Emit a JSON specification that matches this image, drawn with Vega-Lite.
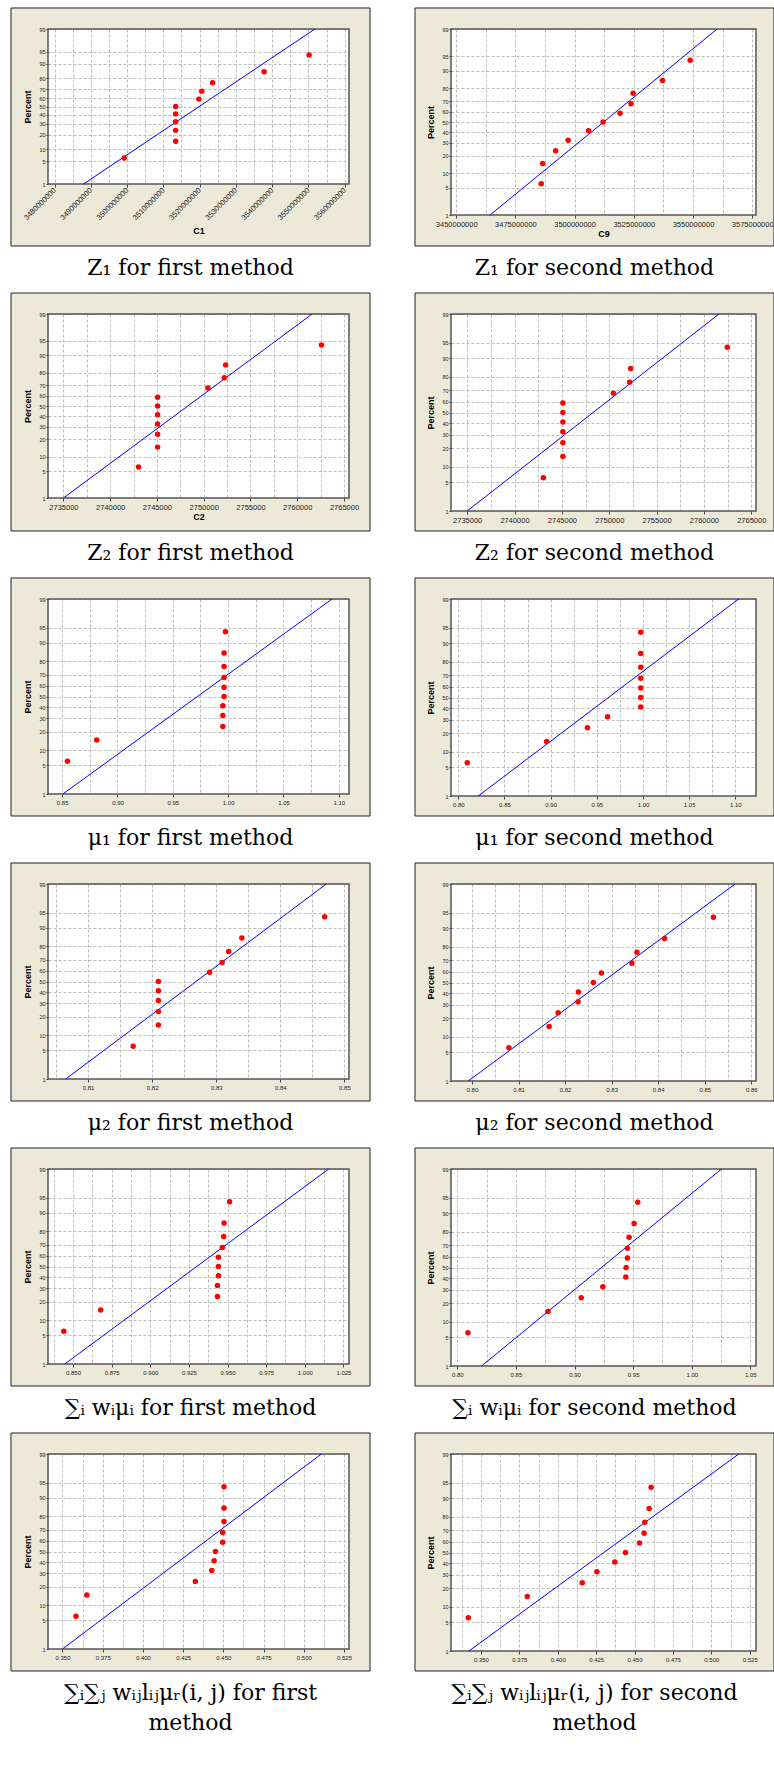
{
"$schema": "https://vega.github.io/schema/vega-lite/v6.json",
"padding": {"left": 10, "top": 7, "right": 2, "bottom": 5},
"columns": 2,
"spacing": {"row": 12, "column": 43},
"config": {
 "view": {"stroke": null},
 "title": {"font": "DejaVu Serif, Liberation Serif", "fontSize": 22, "fontWeight": "normal", "color": "#000", "lineHeight": 30},
 "axis": {"domain": false, "labelFont": "Liberation Sans", "labelFontSize": 6, "labelColor": "#222", "labelFlush": false, "labelOverlap": false, "labelPadding": 2, "tickSize": 3, "tickColor": "#444", "titleFont": "Liberation Sans", "titleFontSize": 9, "titleFontWeight": "bold", "titleColor": "#000", "titlePadding": 2, "gridColor": "#BDBDBD", "gridDash": [3, 2], "gridWidth": 1, "gridOpacity": 1},
 "axisY": {"labelFontSize": 5.5, "tickSize": 2, "labelPadding": 1, "titlePadding": 6}
},
"datasets": {
 "p1": [{"x":3499200000,"pct":6.1,"z":-1.5435},{"x":3513400000,"pct":14.9,"z":-1.0398},{"x":3513400000,"pct":23.7,"z":-0.7165},{"x":3513400000,"pct":32.5,"z":-0.455},{"x":3513400000,"pct":41.2,"z":-0.2217},{"x":3513400000,"pct":50,"z":0},{"x":3519800000,"pct":58.8,"z":0.2217},{"x":3520600000,"pct":67.5,"z":0.455},{"x":3523600000,"pct":76.3,"z":0.7165},{"x":3537800000,"pct":85.1,"z":1.0398},{"x":3550200000,"pct":93.9,"z":1.5435}],
 "f1": [{"x":3488000000,"pct":1,"z":-2.3263},{"x":3551800000,"pct":99,"z":2.3263}],
 "p2": [{"x":3485900000,"pct":6.1,"z":-1.5435},{"x":3486500000,"pct":14.9,"z":-1.0398},{"x":3492000000,"pct":23.7,"z":-0.7165},{"x":3497300000,"pct":32.5,"z":-0.455},{"x":3505900000,"pct":41.2,"z":-0.2217},{"x":3512000000,"pct":50,"z":0},{"x":3519200000,"pct":58.8,"z":0.2217},{"x":3523800000,"pct":67.5,"z":0.455},{"x":3524700000,"pct":76.3,"z":0.7165},{"x":3537100000,"pct":85.1,"z":1.0398},{"x":3548800000,"pct":93.9,"z":1.5435}],
 "f2": [{"x":3464300000,"pct":1,"z":-2.3263},{"x":3560200000,"pct":99,"z":2.3263}],
 "p3": [{"x":2743029,"pct":6.1,"z":-1.5435},{"x":2745072,"pct":14.9,"z":-1.0398},{"x":2745072,"pct":23.7,"z":-0.7165},{"x":2745072,"pct":32.5,"z":-0.455},{"x":2745072,"pct":41.2,"z":-0.2217},{"x":2745072,"pct":50,"z":0},{"x":2745072,"pct":58.8,"z":0.2217},{"x":2750448,"pct":67.5,"z":0.455},{"x":2752204,"pct":76.3,"z":0.7165},{"x":2752348,"pct":85.1,"z":1.0398},{"x":2762599,"pct":93.9,"z":1.5435}],
 "f3": [{"x":2735000,"pct":1,"z":-2.3263},{"x":2761595,"pct":99,"z":2.3263}],
 "p4": [{"x":2743043,"pct":6.1,"z":-1.5435},{"x":2745107,"pct":14.9,"z":-1.0398},{"x":2745107,"pct":23.7,"z":-0.7165},{"x":2745107,"pct":32.5,"z":-0.455},{"x":2745107,"pct":41.2,"z":-0.2217},{"x":2745107,"pct":50,"z":0},{"x":2745107,"pct":58.8,"z":0.2217},{"x":2750445,"pct":67.5,"z":0.455},{"x":2752153,"pct":76.3,"z":0.7165},{"x":2752260,"pct":85.1,"z":1.0398},{"x":2762473,"pct":93.9,"z":1.5435}],
 "f4": [{"x":2735000,"pct":1,"z":-2.3263},{"x":2761584,"pct":99,"z":2.3263}],
 "p5": [{"x":0.8548,"pct":6.1,"z":-1.5435},{"x":0.8812,"pct":14.9,"z":-1.0398},{"x":0.9952,"pct":23.7,"z":-0.7165},{"x":0.9952,"pct":32.5,"z":-0.455},{"x":0.9952,"pct":41.2,"z":-0.2217},{"x":0.9963,"pct":50,"z":0},{"x":0.9963,"pct":58.8,"z":0.2217},{"x":0.9963,"pct":67.5,"z":0.455},{"x":0.9963,"pct":76.3,"z":0.7165},{"x":0.9963,"pct":85.1,"z":1.0398},{"x":0.9975,"pct":93.9,"z":1.5435}],
 "f5": [{"x":0.8506,"pct":1,"z":-2.3263},{"x":1.0939,"pct":99,"z":2.3263}],
 "p6": [{"x":0.8097,"pct":6.1,"z":-1.5435},{"x":0.8956,"pct":14.9,"z":-1.0398},{"x":0.9399,"pct":23.7,"z":-0.7165},{"x":0.9616,"pct":32.5,"z":-0.455},{"x":0.9976,"pct":41.2,"z":-0.2217},{"x":0.9976,"pct":50,"z":0},{"x":0.9976,"pct":58.8,"z":0.2217},{"x":0.9976,"pct":67.5,"z":0.455},{"x":0.9976,"pct":76.3,"z":0.7165},{"x":0.9976,"pct":85.1,"z":1.0398},{"x":0.9976,"pct":93.9,"z":1.5435}],
 "f6": [{"x":0.8216,"pct":1,"z":-2.3263},{"x":1.1036,"pct":99,"z":2.3263}],
 "p7": [{"x":0.81703,"pct":6.1,"z":-1.5435},{"x":0.82097,"pct":14.9,"z":-1.0398},{"x":0.82097,"pct":23.7,"z":-0.7165},{"x":0.82097,"pct":32.5,"z":-0.455},{"x":0.82097,"pct":41.2,"z":-0.2217},{"x":0.82097,"pct":50,"z":0},{"x":0.82897,"pct":58.8,"z":0.2217},{"x":0.83092,"pct":67.5,"z":0.455},{"x":0.83195,"pct":76.3,"z":0.7165},{"x":0.834,"pct":85.1,"z":1.0398},{"x":0.84692,"pct":93.9,"z":1.5435}],
 "f7": [{"x":0.80651,"pct":1,"z":-2.3263},{"x":0.84718,"pct":99,"z":2.3263}],
 "p8": [{"x":0.80793,"pct":6.1,"z":-1.5435},{"x":0.81657,"pct":14.9,"z":-1.0398},{"x":0.8185,"pct":23.7,"z":-0.7165},{"x":0.82279,"pct":32.5,"z":-0.455},{"x":0.82286,"pct":41.2,"z":-0.2217},{"x":0.82607,"pct":50,"z":0},{"x":0.82779,"pct":58.8,"z":0.2217},{"x":0.83436,"pct":67.5,"z":0.455},{"x":0.83543,"pct":76.3,"z":0.7165},{"x":0.84136,"pct":85.1,"z":1.0398},{"x":0.85186,"pct":93.9,"z":1.5435}],
 "f8": [{"x":0.79921,"pct":1,"z":-2.3263},{"x":0.8565,"pct":99,"z":2.3263}],
 "p9": [{"x":0.84404,"pct":6.1,"z":-1.5435},{"x":0.86788,"pct":14.9,"z":-1.0398},{"x":0.94346,"pct":23.7,"z":-0.7165},{"x":0.94346,"pct":32.5,"z":-0.455},{"x":0.9441,"pct":41.2,"z":-0.2217},{"x":0.9441,"pct":50,"z":0},{"x":0.9441,"pct":58.8,"z":0.2217},{"x":0.94666,"pct":67.5,"z":0.455},{"x":0.94751,"pct":76.3,"z":0.7165},{"x":0.94772,"pct":85.1,"z":1.0398},{"x":0.95134,"pct":93.9,"z":1.5435}],
 "f9": [{"x":0.84468,"pct":1,"z":-2.3263},{"x":1.01543,"pct":99,"z":2.3263}],
 "p10": [{"x":0.80907,"pct":6.1,"z":-1.5435},{"x":0.87738,"pct":14.9,"z":-1.0398},{"x":0.90573,"pct":23.7,"z":-0.7165},{"x":0.92415,"pct":32.5,"z":-0.455},{"x":0.94371,"pct":41.2,"z":-0.2217},{"x":0.94399,"pct":50,"z":0},{"x":0.94512,"pct":58.8,"z":0.2217},{"x":0.94512,"pct":67.5,"z":0.455},{"x":0.94654,"pct":76.3,"z":0.7165},{"x":0.95079,"pct":85.1,"z":1.0398},{"x":0.95391,"pct":93.9,"z":1.5435}],
 "f10": [{"x":0.82069,"pct":1,"z":-2.3263},{"x":1.02534,"pct":99,"z":2.3263}],
 "p11": [{"x":0.35838,"pct":6.1,"z":-1.5435},{"x":0.36513,"pct":14.9,"z":-1.0398},{"x":0.4326,"pct":23.7,"z":-0.7165},{"x":0.44282,"pct":32.5,"z":-0.455},{"x":0.44425,"pct":41.2,"z":-0.2217},{"x":0.44507,"pct":50,"z":0},{"x":0.44959,"pct":58.8,"z":0.2217},{"x":0.44959,"pct":67.5,"z":0.455},{"x":0.45041,"pct":76.3,"z":0.7165},{"x":0.45041,"pct":85.1,"z":1.0398},{"x":0.45041,"pct":93.9,"z":1.5435}],
 "f11": [{"x":0.35,"pct":1,"z":-2.3263},{"x":0.5109,"pct":99,"z":2.3263}],
 "p12": [{"x":0.34176,"pct":6.1,"z":-1.5435},{"x":0.38015,"pct":14.9,"z":-1.0398},{"x":0.41594,"pct":23.7,"z":-0.7165},{"x":0.42547,"pct":32.5,"z":-0.455},{"x":0.43718,"pct":41.2,"z":-0.2217},{"x":0.44412,"pct":50,"z":0},{"x":0.45323,"pct":58.8,"z":0.2217},{"x":0.45627,"pct":67.5,"z":0.455},{"x":0.4567,"pct":76.3,"z":0.7165},{"x":0.45952,"pct":85.1,"z":1.0398},{"x":0.46082,"pct":93.9,"z":1.5435}],
 "f12": [{"x":0.34219,"pct":1,"z":-2.3263},{"x":0.51786,"pct":99,"z":2.3263}]
},
"concat": [
{"width":301,"height":155,"title":{"text":"Z₁  for first method","orient":"bottom","anchor":"middle","frame":"bounds","offset":12},"resolve":{"axis":{"x":"independent","y":"independent"}},"layer":[
{"data":{"values":[{}]},"mark":{"type":"rect","fill":"#ECE9D8"},"encoding":{"x":{"datum":3467997000,"type":"quantitative","scale":{"domain":[3478200000,3561200000],"nice":false,"zero":false},"axis":null},"x2":{"datum":3478200000},"y":{"datum":-4.1873,"type":"quantitative","scale":{"domain":[-2.3263,2.3263],"nice":false,"zero":false},"axis":null},"y2":{"datum":2.9567}}},
{"data":{"values":[{}]},"mark":{"type":"rect","fill":"#ECE9D8"},"encoding":{"x":{"datum":3561200000,"type":"quantitative","scale":{"domain":[3478200000,3561200000],"nice":false,"zero":false},"axis":null},"x2":{"datum":3566991000},"y":{"datum":-4.1873,"type":"quantitative","scale":{"domain":[-2.3263,2.3263],"nice":false,"zero":false},"axis":null},"y2":{"datum":2.9567}}},
{"data":{"values":[{}]},"mark":{"type":"rect","fill":"#ECE9D8"},"encoding":{"x":{"datum":3478200000,"type":"quantitative","scale":{"domain":[3478200000,3561200000],"nice":false,"zero":false},"axis":null},"x2":{"datum":3561200000},"y":{"datum":2.3263,"type":"quantitative","scale":{"domain":[-2.3263,2.3263],"nice":false,"zero":false},"axis":null},"y2":{"datum":2.9567}}},
{"data":{"values":[{}]},"mark":{"type":"rect","fill":"#ECE9D8"},"encoding":{"x":{"datum":3478200000,"type":"quantitative","scale":{"domain":[3478200000,3561200000],"nice":false,"zero":false},"axis":null},"x2":{"datum":3561200000},"y":{"datum":-4.1873,"type":"quantitative","scale":{"domain":[-2.3263,2.3263],"nice":false,"zero":false},"axis":null},"y2":{"datum":-2.3263}}},
{"data":{"values":[{}]},"mark":{"type":"rect","filled":false,"stroke":"#222","strokeWidth":1},"encoding":{"x":{"datum":3467997000,"type":"quantitative","scale":{"domain":[3478200000,3561200000],"nice":false,"zero":false},"axis":null},"x2":{"datum":3566991000},"y":{"datum":-4.1873,"type":"quantitative","scale":{"domain":[-2.3263,2.3263],"nice":false,"zero":false},"axis":null},"y2":{"datum":2.9567}}},
{"data":{"values":[{}]},"mark":{"type":"rect","filled":false,"stroke":"#555","strokeWidth":1.5},"encoding":{"x":{"datum":3478200000,"type":"quantitative","scale":{"domain":[3478200000,3561200000],"nice":false,"zero":false},"axis":null},"x2":{"datum":3561200000},"y":{"datum":-2.3263,"type":"quantitative","scale":{"domain":[-2.3263,2.3263],"nice":false,"zero":false},"axis":null},"y2":{"datum":2.3263}}},
{"data":{"name":"f1"},"mark":{"type":"line","color":"#0000FF","strokeWidth":1},"encoding":{"x":{"field":"x","type":"quantitative","scale":{"domain":[3478200000,3561200000],"nice":false,"zero":false},"axis":{"orient":"bottom","grid":true,"labels":false,"ticks":false,"domain":false,"title":null,"zindex":0,"values":[3480000000,3485000000,3490000000,3495000000,3500000000,3505000000,3510000000,3515000000,3520000000,3525000000,3530000000,3535000000,3540000000,3545000000,3550000000,3555000000,3560000000]}},"y":{"field":"z","type":"quantitative","scale":{"domain":[-2.3263,2.3263],"nice":false,"zero":false},"axis":{"orient":"left","grid":true,"labels":false,"ticks":false,"domain":false,"title":null,"zindex":0,"values":[-2.3263,-1.6449,-1.2816,-0.8416,-0.5244,-0.2533,0,0.2533,0.5244,0.8416,1.2816,1.6449,2.3263]}}}},
{"data":{"name":"p1"},"mark":{"type":"circle","size":30,"color":"#FF0000","opacity":1},"encoding":{"x":{"field":"x","type":"quantitative","scale":{"domain":[3478200000,3561200000],"nice":false,"zero":false},"axis":{"orient":"bottom","grid":false,"zindex":1,"values":[3480000000,3490000000,3500000000,3510000000,3520000000,3530000000,3540000000,3550000000,3560000000],"format":"d","labelAngle":-45,"labelAlign":"right","labelBaseline":"middle","labelFontSize":7.5,"title":"C1","titlePadding":6}},"y":{"field":"z","type":"quantitative","scale":{"domain":[-2.3263,2.3263],"nice":false,"zero":false},"axis":{"orient":"left","grid":false,"zindex":1,"values":[-2.3263,-1.6449,-1.2816,-0.8416,-0.5244,-0.2533,0,0.2533,0.5244,0.8416,1.2816,1.6449,2.3263],"labelExpr":"datum.value < -2 ? '1' : datum.value < -1.5 ? '5' : datum.value < -1 ? '10' : datum.value < -0.7 ? '20' : datum.value < -0.4 ? '30' : datum.value < -0.1 ? '40' : datum.value < 0.1 ? '50' : datum.value < 0.4 ? '60' : datum.value < 0.7 ? '70' : datum.value < 1 ? '80' : datum.value < 1.5 ? '90' : datum.value < 2 ? '95' : '99'","title":"Percent"}}}}
]},
{"width":305,"height":186,"title":{"text":"Z₁ for second method","orient":"bottom","anchor":"middle","frame":"bounds","offset":12},"resolve":{"axis":{"x":"independent","y":"independent"}},"layer":[
{"data":{"values":[{}]},"mark":{"type":"rect","fill":"#ECE9D8"},"encoding":{"x":{"datum":3432597000,"type":"quantitative","scale":{"domain":[3447800000,3576600000],"nice":false,"zero":false},"axis":null},"x2":{"datum":3447800000},"y":{"datum":-3.1017,"type":"quantitative","scale":{"domain":[-2.3263,2.3263],"nice":false,"zero":false},"axis":null},"y2":{"datum":2.8516}}},
{"data":{"values":[{}]},"mark":{"type":"rect","fill":"#ECE9D8"},"encoding":{"x":{"datum":3576600000,"type":"quantitative","scale":{"domain":[3447800000,3576600000],"nice":false,"zero":false},"axis":null},"x2":{"datum":3584201000},"y":{"datum":-3.1017,"type":"quantitative","scale":{"domain":[-2.3263,2.3263],"nice":false,"zero":false},"axis":null},"y2":{"datum":2.8516}}},
{"data":{"values":[{}]},"mark":{"type":"rect","fill":"#ECE9D8"},"encoding":{"x":{"datum":3447800000,"type":"quantitative","scale":{"domain":[3447800000,3576600000],"nice":false,"zero":false},"axis":null},"x2":{"datum":3576600000},"y":{"datum":2.3263,"type":"quantitative","scale":{"domain":[-2.3263,2.3263],"nice":false,"zero":false},"axis":null},"y2":{"datum":2.8516}}},
{"data":{"values":[{}]},"mark":{"type":"rect","fill":"#ECE9D8"},"encoding":{"x":{"datum":3447800000,"type":"quantitative","scale":{"domain":[3447800000,3576600000],"nice":false,"zero":false},"axis":null},"x2":{"datum":3576600000},"y":{"datum":-3.1017,"type":"quantitative","scale":{"domain":[-2.3263,2.3263],"nice":false,"zero":false},"axis":null},"y2":{"datum":-2.3263}}},
{"data":{"values":[{}]},"mark":{"type":"rect","filled":false,"stroke":"#222","strokeWidth":1},"encoding":{"x":{"datum":3432597000,"type":"quantitative","scale":{"domain":[3447800000,3576600000],"nice":false,"zero":false},"axis":null},"x2":{"datum":3584201000},"y":{"datum":-3.1017,"type":"quantitative","scale":{"domain":[-2.3263,2.3263],"nice":false,"zero":false},"axis":null},"y2":{"datum":2.8516}}},
{"data":{"values":[{}]},"mark":{"type":"rect","filled":false,"stroke":"#555","strokeWidth":1.5},"encoding":{"x":{"datum":3447800000,"type":"quantitative","scale":{"domain":[3447800000,3576600000],"nice":false,"zero":false},"axis":null},"x2":{"datum":3576600000},"y":{"datum":-2.3263,"type":"quantitative","scale":{"domain":[-2.3263,2.3263],"nice":false,"zero":false},"axis":null},"y2":{"datum":2.3263}}},
{"data":{"name":"f2"},"mark":{"type":"line","color":"#0000FF","strokeWidth":1},"encoding":{"x":{"field":"x","type":"quantitative","scale":{"domain":[3447800000,3576600000],"nice":false,"zero":false},"axis":{"orient":"bottom","grid":true,"labels":false,"ticks":false,"domain":false,"title":null,"zindex":0,"values":[3450000000,3462500000,3475000000,3487500000,3500000000,3512500000,3525000000,3537500000,3550000000,3562500000,3575000000]}},"y":{"field":"z","type":"quantitative","scale":{"domain":[-2.3263,2.3263],"nice":false,"zero":false},"axis":{"orient":"left","grid":true,"labels":false,"ticks":false,"domain":false,"title":null,"zindex":0,"values":[-2.3263,-1.6449,-1.2816,-0.8416,-0.5244,-0.2533,0,0.2533,0.5244,0.8416,1.2816,1.6449,2.3263]}}}},
{"data":{"name":"p2"},"mark":{"type":"circle","size":30,"color":"#FF0000","opacity":1},"encoding":{"x":{"field":"x","type":"quantitative","scale":{"domain":[3447800000,3576600000],"nice":false,"zero":false},"axis":{"orient":"bottom","grid":false,"zindex":1,"values":[3450000000,3475000000,3500000000,3525000000,3550000000,3575000000],"format":"d","labelFontSize":7.5,"title":"C9"}},"y":{"field":"z","type":"quantitative","scale":{"domain":[-2.3263,2.3263],"nice":false,"zero":false},"axis":{"orient":"left","grid":false,"zindex":1,"values":[-2.3263,-1.6449,-1.2816,-0.8416,-0.5244,-0.2533,0,0.2533,0.5244,0.8416,1.2816,1.6449,2.3263],"labelExpr":"datum.value < -2 ? '1' : datum.value < -1.5 ? '5' : datum.value < -1 ? '10' : datum.value < -0.7 ? '20' : datum.value < -0.4 ? '30' : datum.value < -0.1 ? '40' : datum.value < 0.1 ? '50' : datum.value < 0.4 ? '60' : datum.value < 0.7 ? '70' : datum.value < 1 ? '80' : datum.value < 1.5 ? '90' : datum.value < 2 ? '95' : '99'","title":"Percent"}}}}
]},
{"width":301,"height":184,"title":{"text":"Z₂ for first method","orient":"bottom","anchor":"middle","frame":"bounds","offset":12},"resolve":{"axis":{"x":"independent","y":"independent"}},"layer":[
{"data":{"values":[{}]},"mark":{"type":"rect","fill":"#ECE9D8"},"encoding":{"x":{"datum":2729395,"type":"quantitative","scale":{"domain":[2733351,2765538],"nice":false,"zero":false},"axis":null},"x2":{"datum":2733351},"y":{"datum":-3.1607,"type":"quantitative","scale":{"domain":[-2.3263,2.3263],"nice":false,"zero":false},"axis":null},"y2":{"datum":2.8573}}},
{"data":{"values":[{}]},"mark":{"type":"rect","fill":"#ECE9D8"},"encoding":{"x":{"datum":2765538,"type":"quantitative","scale":{"domain":[2733351,2765538],"nice":false,"zero":false},"axis":null},"x2":{"datum":2767784},"y":{"datum":-3.1607,"type":"quantitative","scale":{"domain":[-2.3263,2.3263],"nice":false,"zero":false},"axis":null},"y2":{"datum":2.8573}}},
{"data":{"values":[{}]},"mark":{"type":"rect","fill":"#ECE9D8"},"encoding":{"x":{"datum":2733351,"type":"quantitative","scale":{"domain":[2733351,2765538],"nice":false,"zero":false},"axis":null},"x2":{"datum":2765538},"y":{"datum":2.3263,"type":"quantitative","scale":{"domain":[-2.3263,2.3263],"nice":false,"zero":false},"axis":null},"y2":{"datum":2.8573}}},
{"data":{"values":[{}]},"mark":{"type":"rect","fill":"#ECE9D8"},"encoding":{"x":{"datum":2733351,"type":"quantitative","scale":{"domain":[2733351,2765538],"nice":false,"zero":false},"axis":null},"x2":{"datum":2765538},"y":{"datum":-3.1607,"type":"quantitative","scale":{"domain":[-2.3263,2.3263],"nice":false,"zero":false},"axis":null},"y2":{"datum":-2.3263}}},
{"data":{"values":[{}]},"mark":{"type":"rect","filled":false,"stroke":"#222","strokeWidth":1},"encoding":{"x":{"datum":2729395,"type":"quantitative","scale":{"domain":[2733351,2765538],"nice":false,"zero":false},"axis":null},"x2":{"datum":2767784},"y":{"datum":-3.1607,"type":"quantitative","scale":{"domain":[-2.3263,2.3263],"nice":false,"zero":false},"axis":null},"y2":{"datum":2.8573}}},
{"data":{"values":[{}]},"mark":{"type":"rect","filled":false,"stroke":"#555","strokeWidth":1.5},"encoding":{"x":{"datum":2733351,"type":"quantitative","scale":{"domain":[2733351,2765538],"nice":false,"zero":false},"axis":null},"x2":{"datum":2765538},"y":{"datum":-2.3263,"type":"quantitative","scale":{"domain":[-2.3263,2.3263],"nice":false,"zero":false},"axis":null},"y2":{"datum":2.3263}}},
{"data":{"name":"f3"},"mark":{"type":"line","color":"#0000FF","strokeWidth":1},"encoding":{"x":{"field":"x","type":"quantitative","scale":{"domain":[2733351,2765538],"nice":false,"zero":false},"axis":{"orient":"bottom","grid":true,"labels":false,"ticks":false,"domain":false,"title":null,"zindex":0,"values":[2735000,2737500,2740000,2742500,2745000,2747500,2750000,2752500,2755000,2757500,2760000,2762500,2765000]}},"y":{"field":"z","type":"quantitative","scale":{"domain":[-2.3263,2.3263],"nice":false,"zero":false},"axis":{"orient":"left","grid":true,"labels":false,"ticks":false,"domain":false,"title":null,"zindex":0,"values":[-2.3263,-1.6449,-1.2816,-0.8416,-0.5244,-0.2533,0,0.2533,0.5244,0.8416,1.2816,1.6449,2.3263]}}}},
{"data":{"name":"p3"},"mark":{"type":"circle","size":30,"color":"#FF0000","opacity":1},"encoding":{"x":{"field":"x","type":"quantitative","scale":{"domain":[2733351,2765538],"nice":false,"zero":false},"axis":{"orient":"bottom","grid":false,"zindex":1,"values":[2735000,2740000,2745000,2750000,2755000,2760000,2765000],"format":"d","labelFontSize":7.5,"title":"C2"}},"y":{"field":"z","type":"quantitative","scale":{"domain":[-2.3263,2.3263],"nice":false,"zero":false},"axis":{"orient":"left","grid":false,"zindex":1,"values":[-2.3263,-1.6449,-1.2816,-0.8416,-0.5244,-0.2533,0,0.2533,0.5244,0.8416,1.2816,1.6449,2.3263],"labelExpr":"datum.value < -2 ? '1' : datum.value < -1.5 ? '5' : datum.value < -1 ? '10' : datum.value < -0.7 ? '20' : datum.value < -0.4 ? '30' : datum.value < -0.1 ? '40' : datum.value < 0.1 ? '50' : datum.value < 0.4 ? '60' : datum.value < 0.7 ? '70' : datum.value < 1 ? '80' : datum.value < 1.5 ? '90' : datum.value < 2 ? '95' : '99'","title":"Percent"}}}}
]},
{"width":305,"height":197,"title":{"text":"Z₂ for second method","orient":"bottom","anchor":"middle","frame":"bounds","offset":12},"resolve":{"axis":{"x":"independent","y":"independent"}},"layer":[
{"data":{"values":[{}]},"mark":{"type":"rect","fill":"#ECE9D8"},"encoding":{"x":{"datum":2729491,"type":"quantitative","scale":{"domain":[2733292,2765498],"nice":false,"zero":false},"axis":null},"x2":{"datum":2733292},"y":{"datum":-2.7986,"type":"quantitative","scale":{"domain":[-2.3263,2.3263],"nice":false,"zero":false},"axis":null},"y2":{"datum":2.8223}}},
{"data":{"values":[{}]},"mark":{"type":"rect","fill":"#ECE9D8"},"encoding":{"x":{"datum":2765498,"type":"quantitative","scale":{"domain":[2733292,2765498],"nice":false,"zero":false},"axis":null},"x2":{"datum":2767399},"y":{"datum":-2.7986,"type":"quantitative","scale":{"domain":[-2.3263,2.3263],"nice":false,"zero":false},"axis":null},"y2":{"datum":2.8223}}},
{"data":{"values":[{}]},"mark":{"type":"rect","fill":"#ECE9D8"},"encoding":{"x":{"datum":2733292,"type":"quantitative","scale":{"domain":[2733292,2765498],"nice":false,"zero":false},"axis":null},"x2":{"datum":2765498},"y":{"datum":2.3263,"type":"quantitative","scale":{"domain":[-2.3263,2.3263],"nice":false,"zero":false},"axis":null},"y2":{"datum":2.8223}}},
{"data":{"values":[{}]},"mark":{"type":"rect","fill":"#ECE9D8"},"encoding":{"x":{"datum":2733292,"type":"quantitative","scale":{"domain":[2733292,2765498],"nice":false,"zero":false},"axis":null},"x2":{"datum":2765498},"y":{"datum":-2.7986,"type":"quantitative","scale":{"domain":[-2.3263,2.3263],"nice":false,"zero":false},"axis":null},"y2":{"datum":-2.3263}}},
{"data":{"values":[{}]},"mark":{"type":"rect","filled":false,"stroke":"#222","strokeWidth":1},"encoding":{"x":{"datum":2729491,"type":"quantitative","scale":{"domain":[2733292,2765498],"nice":false,"zero":false},"axis":null},"x2":{"datum":2767399},"y":{"datum":-2.7986,"type":"quantitative","scale":{"domain":[-2.3263,2.3263],"nice":false,"zero":false},"axis":null},"y2":{"datum":2.8223}}},
{"data":{"values":[{}]},"mark":{"type":"rect","filled":false,"stroke":"#555","strokeWidth":1.5},"encoding":{"x":{"datum":2733292,"type":"quantitative","scale":{"domain":[2733292,2765498],"nice":false,"zero":false},"axis":null},"x2":{"datum":2765498},"y":{"datum":-2.3263,"type":"quantitative","scale":{"domain":[-2.3263,2.3263],"nice":false,"zero":false},"axis":null},"y2":{"datum":2.3263}}},
{"data":{"name":"f4"},"mark":{"type":"line","color":"#0000FF","strokeWidth":1},"encoding":{"x":{"field":"x","type":"quantitative","scale":{"domain":[2733292,2765498],"nice":false,"zero":false},"axis":{"orient":"bottom","grid":true,"labels":false,"ticks":false,"domain":false,"title":null,"zindex":0,"values":[2735000,2737500,2740000,2742500,2745000,2747500,2750000,2752500,2755000,2757500,2760000,2762500,2765000]}},"y":{"field":"z","type":"quantitative","scale":{"domain":[-2.3263,2.3263],"nice":false,"zero":false},"axis":{"orient":"left","grid":true,"labels":false,"ticks":false,"domain":false,"title":null,"zindex":0,"values":[-2.3263,-1.6449,-1.2816,-0.8416,-0.5244,-0.2533,0,0.2533,0.5244,0.8416,1.2816,1.6449,2.3263]}}}},
{"data":{"name":"p4"},"mark":{"type":"circle","size":30,"color":"#FF0000","opacity":1},"encoding":{"x":{"field":"x","type":"quantitative","scale":{"domain":[2733292,2765498],"nice":false,"zero":false},"axis":{"orient":"bottom","grid":false,"zindex":1,"values":[2735000,2740000,2745000,2750000,2755000,2760000,2765000],"format":"d","labelFontSize":7.5,"title":null}},"y":{"field":"z","type":"quantitative","scale":{"domain":[-2.3263,2.3263],"nice":false,"zero":false},"axis":{"orient":"left","grid":false,"zindex":1,"values":[-2.3263,-1.6449,-1.2816,-0.8416,-0.5244,-0.2533,0,0.2533,0.5244,0.8416,1.2816,1.6449,2.3263],"labelExpr":"datum.value < -2 ? '1' : datum.value < -1.5 ? '5' : datum.value < -1 ? '10' : datum.value < -0.7 ? '20' : datum.value < -0.4 ? '30' : datum.value < -0.1 ? '40' : datum.value < 0.1 ? '50' : datum.value < 0.4 ? '60' : datum.value < 0.7 ? '70' : datum.value < 1 ? '80' : datum.value < 1.5 ? '90' : datum.value < 2 ? '95' : '99'","title":"Percent"}}}}
]},
{"width":301,"height":195,"title":{"text":"μ₁ for first method","orient":"bottom","anchor":"middle","frame":"bounds","offset":12},"resolve":{"axis":{"x":"independent","y":"independent"}},"layer":[
{"data":{"values":[{}]},"mark":{"type":"rect","fill":"#ECE9D8"},"encoding":{"x":{"datum":0.803765,"type":"quantitative","scale":{"domain":[0.8372,1.1092],"nice":false,"zero":false},"axis":null},"x2":{"datum":0.8372},"y":{"datum":-2.8512,"type":"quantitative","scale":{"domain":[-2.3263,2.3263],"nice":false,"zero":false},"axis":null},"y2":{"datum":2.8274}}},
{"data":{"values":[{}]},"mark":{"type":"rect","fill":"#ECE9D8"},"encoding":{"x":{"datum":1.1092,"type":"quantitative","scale":{"domain":[0.8372,1.1092],"nice":false,"zero":false},"axis":null},"x2":{"datum":1.128177},"y":{"datum":-2.8512,"type":"quantitative","scale":{"domain":[-2.3263,2.3263],"nice":false,"zero":false},"axis":null},"y2":{"datum":2.8274}}},
{"data":{"values":[{}]},"mark":{"type":"rect","fill":"#ECE9D8"},"encoding":{"x":{"datum":0.8372,"type":"quantitative","scale":{"domain":[0.8372,1.1092],"nice":false,"zero":false},"axis":null},"x2":{"datum":1.1092},"y":{"datum":2.3263,"type":"quantitative","scale":{"domain":[-2.3263,2.3263],"nice":false,"zero":false},"axis":null},"y2":{"datum":2.8274}}},
{"data":{"values":[{}]},"mark":{"type":"rect","fill":"#ECE9D8"},"encoding":{"x":{"datum":0.8372,"type":"quantitative","scale":{"domain":[0.8372,1.1092],"nice":false,"zero":false},"axis":null},"x2":{"datum":1.1092},"y":{"datum":-2.8512,"type":"quantitative","scale":{"domain":[-2.3263,2.3263],"nice":false,"zero":false},"axis":null},"y2":{"datum":-2.3263}}},
{"data":{"values":[{}]},"mark":{"type":"rect","filled":false,"stroke":"#222","strokeWidth":1},"encoding":{"x":{"datum":0.803765,"type":"quantitative","scale":{"domain":[0.8372,1.1092],"nice":false,"zero":false},"axis":null},"x2":{"datum":1.128177},"y":{"datum":-2.8512,"type":"quantitative","scale":{"domain":[-2.3263,2.3263],"nice":false,"zero":false},"axis":null},"y2":{"datum":2.8274}}},
{"data":{"values":[{}]},"mark":{"type":"rect","filled":false,"stroke":"#555","strokeWidth":1.5},"encoding":{"x":{"datum":0.8372,"type":"quantitative","scale":{"domain":[0.8372,1.1092],"nice":false,"zero":false},"axis":null},"x2":{"datum":1.1092},"y":{"datum":-2.3263,"type":"quantitative","scale":{"domain":[-2.3263,2.3263],"nice":false,"zero":false},"axis":null},"y2":{"datum":2.3263}}},
{"data":{"name":"f5"},"mark":{"type":"line","color":"#0000FF","strokeWidth":1},"encoding":{"x":{"field":"x","type":"quantitative","scale":{"domain":[0.8372,1.1092],"nice":false,"zero":false},"axis":{"orient":"bottom","grid":true,"labels":false,"ticks":false,"domain":false,"title":null,"zindex":0,"values":[0.85,0.875,0.9,0.925,0.95,0.975,1,1.025,1.05,1.075,1.1]}},"y":{"field":"z","type":"quantitative","scale":{"domain":[-2.3263,2.3263],"nice":false,"zero":false},"axis":{"orient":"left","grid":true,"labels":false,"ticks":false,"domain":false,"title":null,"zindex":0,"values":[-2.3263,-1.6449,-1.2816,-0.8416,-0.5244,-0.2533,0,0.2533,0.5244,0.8416,1.2816,1.6449,2.3263]}}}},
{"data":{"name":"p5"},"mark":{"type":"circle","size":30,"color":"#FF0000","opacity":1},"encoding":{"x":{"field":"x","type":"quantitative","scale":{"domain":[0.8372,1.1092],"nice":false,"zero":false},"axis":{"orient":"bottom","grid":false,"zindex":1,"values":[0.85,0.9,0.95,1,1.05,1.1],"format":".2f","title":null}},"y":{"field":"z","type":"quantitative","scale":{"domain":[-2.3263,2.3263],"nice":false,"zero":false},"axis":{"orient":"left","grid":false,"zindex":1,"values":[-2.3263,-1.6449,-1.2816,-0.8416,-0.5244,-0.2533,0,0.2533,0.5244,0.8416,1.2816,1.6449,2.3263],"labelExpr":"datum.value < -2 ? '1' : datum.value < -1.5 ? '5' : datum.value < -1 ? '10' : datum.value < -0.7 ? '20' : datum.value < -0.4 ? '30' : datum.value < -0.1 ? '40' : datum.value < 0.1 ? '50' : datum.value < 0.4 ? '60' : datum.value < 0.7 ? '70' : datum.value < 1 ? '80' : datum.value < 1.5 ? '90' : datum.value < 2 ? '95' : '99'","title":"Percent"}}}}
]},
{"width":305,"height":197,"title":{"text":"μ₁ for second method","orient":"bottom","anchor":"middle","frame":"bounds","offset":12},"resolve":{"axis":{"x":"independent","y":"independent"}},"layer":[
{"data":{"values":[{}]},"mark":{"type":"rect","fill":"#ECE9D8"},"encoding":{"x":{"datum":0.753113,"type":"quantitative","scale":{"domain":[0.7921,1.1224],"nice":false,"zero":false},"axis":null},"x2":{"datum":0.7921},"y":{"datum":-2.7986,"type":"quantitative","scale":{"domain":[-2.3263,2.3263],"nice":false,"zero":false},"axis":null},"y2":{"datum":2.8223}}},
{"data":{"values":[{}]},"mark":{"type":"rect","fill":"#ECE9D8"},"encoding":{"x":{"datum":1.1224,"type":"quantitative","scale":{"domain":[0.7921,1.1224],"nice":false,"zero":false},"axis":null},"x2":{"datum":1.141894},"y":{"datum":-2.7986,"type":"quantitative","scale":{"domain":[-2.3263,2.3263],"nice":false,"zero":false},"axis":null},"y2":{"datum":2.8223}}},
{"data":{"values":[{}]},"mark":{"type":"rect","fill":"#ECE9D8"},"encoding":{"x":{"datum":0.7921,"type":"quantitative","scale":{"domain":[0.7921,1.1224],"nice":false,"zero":false},"axis":null},"x2":{"datum":1.1224},"y":{"datum":2.3263,"type":"quantitative","scale":{"domain":[-2.3263,2.3263],"nice":false,"zero":false},"axis":null},"y2":{"datum":2.8223}}},
{"data":{"values":[{}]},"mark":{"type":"rect","fill":"#ECE9D8"},"encoding":{"x":{"datum":0.7921,"type":"quantitative","scale":{"domain":[0.7921,1.1224],"nice":false,"zero":false},"axis":null},"x2":{"datum":1.1224},"y":{"datum":-2.7986,"type":"quantitative","scale":{"domain":[-2.3263,2.3263],"nice":false,"zero":false},"axis":null},"y2":{"datum":-2.3263}}},
{"data":{"values":[{}]},"mark":{"type":"rect","filled":false,"stroke":"#222","strokeWidth":1},"encoding":{"x":{"datum":0.753113,"type":"quantitative","scale":{"domain":[0.7921,1.1224],"nice":false,"zero":false},"axis":null},"x2":{"datum":1.141894},"y":{"datum":-2.7986,"type":"quantitative","scale":{"domain":[-2.3263,2.3263],"nice":false,"zero":false},"axis":null},"y2":{"datum":2.8223}}},
{"data":{"values":[{}]},"mark":{"type":"rect","filled":false,"stroke":"#555","strokeWidth":1.5},"encoding":{"x":{"datum":0.7921,"type":"quantitative","scale":{"domain":[0.7921,1.1224],"nice":false,"zero":false},"axis":null},"x2":{"datum":1.1224},"y":{"datum":-2.3263,"type":"quantitative","scale":{"domain":[-2.3263,2.3263],"nice":false,"zero":false},"axis":null},"y2":{"datum":2.3263}}},
{"data":{"name":"f6"},"mark":{"type":"line","color":"#0000FF","strokeWidth":1},"encoding":{"x":{"field":"x","type":"quantitative","scale":{"domain":[0.7921,1.1224],"nice":false,"zero":false},"axis":{"orient":"bottom","grid":true,"labels":false,"ticks":false,"domain":false,"title":null,"zindex":0,"values":[0.8,0.825,0.85,0.875,0.9,0.925,0.95,0.975,1,1.025,1.05,1.075,1.1]}},"y":{"field":"z","type":"quantitative","scale":{"domain":[-2.3263,2.3263],"nice":false,"zero":false},"axis":{"orient":"left","grid":true,"labels":false,"ticks":false,"domain":false,"title":null,"zindex":0,"values":[-2.3263,-1.6449,-1.2816,-0.8416,-0.5244,-0.2533,0,0.2533,0.5244,0.8416,1.2816,1.6449,2.3263]}}}},
{"data":{"name":"p6"},"mark":{"type":"circle","size":30,"color":"#FF0000","opacity":1},"encoding":{"x":{"field":"x","type":"quantitative","scale":{"domain":[0.7921,1.1224],"nice":false,"zero":false},"axis":{"orient":"bottom","grid":false,"zindex":1,"values":[0.8,0.85,0.9,0.95,1,1.05,1.1],"format":".2f","title":null}},"y":{"field":"z","type":"quantitative","scale":{"domain":[-2.3263,2.3263],"nice":false,"zero":false},"axis":{"orient":"left","grid":false,"zindex":1,"values":[-2.3263,-1.6449,-1.2816,-0.8416,-0.5244,-0.2533,0,0.2533,0.5244,0.8416,1.2816,1.6449,2.3263],"labelExpr":"datum.value < -2 ? '1' : datum.value < -1.5 ? '5' : datum.value < -1 ? '10' : datum.value < -0.7 ? '20' : datum.value < -0.4 ? '30' : datum.value < -0.1 ? '40' : datum.value < 0.1 ? '50' : datum.value < 0.4 ? '60' : datum.value < 0.7 ? '70' : datum.value < 1 ? '80' : datum.value < 1.5 ? '90' : datum.value < 2 ? '95' : '99'","title":"Percent"}}}}
]},
{"width":301,"height":195,"title":{"text":"μ₂ for first method","orient":"bottom","anchor":"middle","frame":"bounds","offset":12},"resolve":{"axis":{"x":"independent","y":"independent"}},"layer":[
{"data":{"values":[{}]},"mark":{"type":"rect","fill":"#ECE9D8"},"encoding":{"x":{"datum":0.797965,"type":"quantitative","scale":{"domain":[0.80374,0.85072],"nice":false,"zero":false},"axis":null},"x2":{"datum":0.80374},"y":{"datum":-2.8512,"type":"quantitative","scale":{"domain":[-2.3263,2.3263],"nice":false,"zero":false},"axis":null},"y2":{"datum":2.8274}}},
{"data":{"values":[{}]},"mark":{"type":"rect","fill":"#ECE9D8"},"encoding":{"x":{"datum":0.85072,"type":"quantitative","scale":{"domain":[0.80374,0.85072],"nice":false,"zero":false},"axis":null},"x2":{"datum":0.853998},"y":{"datum":-2.8512,"type":"quantitative","scale":{"domain":[-2.3263,2.3263],"nice":false,"zero":false},"axis":null},"y2":{"datum":2.8274}}},
{"data":{"values":[{}]},"mark":{"type":"rect","fill":"#ECE9D8"},"encoding":{"x":{"datum":0.80374,"type":"quantitative","scale":{"domain":[0.80374,0.85072],"nice":false,"zero":false},"axis":null},"x2":{"datum":0.85072},"y":{"datum":2.3263,"type":"quantitative","scale":{"domain":[-2.3263,2.3263],"nice":false,"zero":false},"axis":null},"y2":{"datum":2.8274}}},
{"data":{"values":[{}]},"mark":{"type":"rect","fill":"#ECE9D8"},"encoding":{"x":{"datum":0.80374,"type":"quantitative","scale":{"domain":[0.80374,0.85072],"nice":false,"zero":false},"axis":null},"x2":{"datum":0.85072},"y":{"datum":-2.8512,"type":"quantitative","scale":{"domain":[-2.3263,2.3263],"nice":false,"zero":false},"axis":null},"y2":{"datum":-2.3263}}},
{"data":{"values":[{}]},"mark":{"type":"rect","filled":false,"stroke":"#222","strokeWidth":1},"encoding":{"x":{"datum":0.797965,"type":"quantitative","scale":{"domain":[0.80374,0.85072],"nice":false,"zero":false},"axis":null},"x2":{"datum":0.853998},"y":{"datum":-2.8512,"type":"quantitative","scale":{"domain":[-2.3263,2.3263],"nice":false,"zero":false},"axis":null},"y2":{"datum":2.8274}}},
{"data":{"values":[{}]},"mark":{"type":"rect","filled":false,"stroke":"#555","strokeWidth":1.5},"encoding":{"x":{"datum":0.80374,"type":"quantitative","scale":{"domain":[0.80374,0.85072],"nice":false,"zero":false},"axis":null},"x2":{"datum":0.85072},"y":{"datum":-2.3263,"type":"quantitative","scale":{"domain":[-2.3263,2.3263],"nice":false,"zero":false},"axis":null},"y2":{"datum":2.3263}}},
{"data":{"name":"f7"},"mark":{"type":"line","color":"#0000FF","strokeWidth":1},"encoding":{"x":{"field":"x","type":"quantitative","scale":{"domain":[0.80374,0.85072],"nice":false,"zero":false},"axis":{"orient":"bottom","grid":true,"labels":false,"ticks":false,"domain":false,"title":null,"zindex":0,"values":[0.805,0.81,0.815,0.82,0.825,0.83,0.835,0.84,0.845,0.85]}},"y":{"field":"z","type":"quantitative","scale":{"domain":[-2.3263,2.3263],"nice":false,"zero":false},"axis":{"orient":"left","grid":true,"labels":false,"ticks":false,"domain":false,"title":null,"zindex":0,"values":[-2.3263,-1.6449,-1.2816,-0.8416,-0.5244,-0.2533,0,0.2533,0.5244,0.8416,1.2816,1.6449,2.3263]}}}},
{"data":{"name":"p7"},"mark":{"type":"circle","size":30,"color":"#FF0000","opacity":1},"encoding":{"x":{"field":"x","type":"quantitative","scale":{"domain":[0.80374,0.85072],"nice":false,"zero":false},"axis":{"orient":"bottom","grid":false,"zindex":1,"values":[0.81,0.82,0.83,0.84,0.85],"format":".2f","title":null}},"y":{"field":"z","type":"quantitative","scale":{"domain":[-2.3263,2.3263],"nice":false,"zero":false},"axis":{"orient":"left","grid":false,"zindex":1,"values":[-2.3263,-1.6449,-1.2816,-0.8416,-0.5244,-0.2533,0,0.2533,0.5244,0.8416,1.2816,1.6449,2.3263],"labelExpr":"datum.value < -2 ? '1' : datum.value < -1.5 ? '5' : datum.value < -1 ? '10' : datum.value < -0.7 ? '20' : datum.value < -0.4 ? '30' : datum.value < -0.1 ? '40' : datum.value < 0.1 ? '50' : datum.value < 0.4 ? '60' : datum.value < 0.7 ? '70' : datum.value < 1 ? '80' : datum.value < 1.5 ? '90' : datum.value < 2 ? '95' : '99'","title":"Percent"}}}}
]},
{"width":305,"height":197,"title":{"text":"μ₂ for second method","orient":"bottom","anchor":"middle","frame":"bounds","offset":12},"resolve":{"axis":{"x":"independent","y":"independent"}},"layer":[
{"data":{"values":[{}]},"mark":{"type":"rect","fill":"#ECE9D8"},"encoding":{"x":{"datum":0.787769,"type":"quantitative","scale":{"domain":[0.7955,0.861],"nice":false,"zero":false},"axis":null},"x2":{"datum":0.7955},"y":{"datum":-2.7986,"type":"quantitative","scale":{"domain":[-2.3263,2.3263],"nice":false,"zero":false},"axis":null},"y2":{"datum":2.8223}}},
{"data":{"values":[{}]},"mark":{"type":"rect","fill":"#ECE9D8"},"encoding":{"x":{"datum":0.861,"type":"quantitative","scale":{"domain":[0.7955,0.861],"nice":false,"zero":false},"axis":null},"x2":{"datum":0.864866},"y":{"datum":-2.7986,"type":"quantitative","scale":{"domain":[-2.3263,2.3263],"nice":false,"zero":false},"axis":null},"y2":{"datum":2.8223}}},
{"data":{"values":[{}]},"mark":{"type":"rect","fill":"#ECE9D8"},"encoding":{"x":{"datum":0.7955,"type":"quantitative","scale":{"domain":[0.7955,0.861],"nice":false,"zero":false},"axis":null},"x2":{"datum":0.861},"y":{"datum":2.3263,"type":"quantitative","scale":{"domain":[-2.3263,2.3263],"nice":false,"zero":false},"axis":null},"y2":{"datum":2.8223}}},
{"data":{"values":[{}]},"mark":{"type":"rect","fill":"#ECE9D8"},"encoding":{"x":{"datum":0.7955,"type":"quantitative","scale":{"domain":[0.7955,0.861],"nice":false,"zero":false},"axis":null},"x2":{"datum":0.861},"y":{"datum":-2.7986,"type":"quantitative","scale":{"domain":[-2.3263,2.3263],"nice":false,"zero":false},"axis":null},"y2":{"datum":-2.3263}}},
{"data":{"values":[{}]},"mark":{"type":"rect","filled":false,"stroke":"#222","strokeWidth":1},"encoding":{"x":{"datum":0.787769,"type":"quantitative","scale":{"domain":[0.7955,0.861],"nice":false,"zero":false},"axis":null},"x2":{"datum":0.864866},"y":{"datum":-2.7986,"type":"quantitative","scale":{"domain":[-2.3263,2.3263],"nice":false,"zero":false},"axis":null},"y2":{"datum":2.8223}}},
{"data":{"values":[{}]},"mark":{"type":"rect","filled":false,"stroke":"#555","strokeWidth":1.5},"encoding":{"x":{"datum":0.7955,"type":"quantitative","scale":{"domain":[0.7955,0.861],"nice":false,"zero":false},"axis":null},"x2":{"datum":0.861},"y":{"datum":-2.3263,"type":"quantitative","scale":{"domain":[-2.3263,2.3263],"nice":false,"zero":false},"axis":null},"y2":{"datum":2.3263}}},
{"data":{"name":"f8"},"mark":{"type":"line","color":"#0000FF","strokeWidth":1},"encoding":{"x":{"field":"x","type":"quantitative","scale":{"domain":[0.7955,0.861],"nice":false,"zero":false},"axis":{"orient":"bottom","grid":true,"labels":false,"ticks":false,"domain":false,"title":null,"zindex":0,"values":[0.8,0.805,0.81,0.815,0.82,0.825,0.83,0.835,0.84,0.845,0.85,0.855,0.86]}},"y":{"field":"z","type":"quantitative","scale":{"domain":[-2.3263,2.3263],"nice":false,"zero":false},"axis":{"orient":"left","grid":true,"labels":false,"ticks":false,"domain":false,"title":null,"zindex":0,"values":[-2.3263,-1.6449,-1.2816,-0.8416,-0.5244,-0.2533,0,0.2533,0.5244,0.8416,1.2816,1.6449,2.3263]}}}},
{"data":{"name":"p8"},"mark":{"type":"circle","size":30,"color":"#FF0000","opacity":1},"encoding":{"x":{"field":"x","type":"quantitative","scale":{"domain":[0.7955,0.861],"nice":false,"zero":false},"axis":{"orient":"bottom","grid":false,"zindex":1,"values":[0.8,0.81,0.82,0.83,0.84,0.85,0.86],"format":".2f","title":null}},"y":{"field":"z","type":"quantitative","scale":{"domain":[-2.3263,2.3263],"nice":false,"zero":false},"axis":{"orient":"left","grid":false,"zindex":1,"values":[-2.3263,-1.6449,-1.2816,-0.8416,-0.5244,-0.2533,0,0.2533,0.5244,0.8416,1.2816,1.6449,2.3263],"labelExpr":"datum.value < -2 ? '1' : datum.value < -1.5 ? '5' : datum.value < -1 ? '10' : datum.value < -0.7 ? '20' : datum.value < -0.4 ? '30' : datum.value < -0.1 ? '40' : datum.value < 0.1 ? '50' : datum.value < 0.4 ? '60' : datum.value < 0.7 ? '70' : datum.value < 1 ? '80' : datum.value < 1.5 ? '90' : datum.value < 2 ? '95' : '99'","title":"Percent"}}}}
]},
{"width":301,"height":195,"title":{"text":"∑ᵢ wᵢμᵢ   for first method","orient":"bottom","anchor":"middle","frame":"bounds","offset":12},"resolve":{"axis":{"x":"independent","y":"independent"}},"layer":[
{"data":{"values":[{}]},"mark":{"type":"rect","fill":"#ECE9D8"},"encoding":{"x":{"datum":0.809854,"type":"quantitative","scale":{"domain":[0.8338,1.0286],"nice":false,"zero":false},"axis":null},"x2":{"datum":0.8338},"y":{"datum":-2.8512,"type":"quantitative","scale":{"domain":[-2.3263,2.3263],"nice":false,"zero":false},"axis":null},"y2":{"datum":2.8274}}},
{"data":{"values":[{}]},"mark":{"type":"rect","fill":"#ECE9D8"},"encoding":{"x":{"datum":1.0286,"type":"quantitative","scale":{"domain":[0.8338,1.0286],"nice":false,"zero":false},"axis":null},"x2":{"datum":1.042191},"y":{"datum":-2.8512,"type":"quantitative","scale":{"domain":[-2.3263,2.3263],"nice":false,"zero":false},"axis":null},"y2":{"datum":2.8274}}},
{"data":{"values":[{}]},"mark":{"type":"rect","fill":"#ECE9D8"},"encoding":{"x":{"datum":0.8338,"type":"quantitative","scale":{"domain":[0.8338,1.0286],"nice":false,"zero":false},"axis":null},"x2":{"datum":1.0286},"y":{"datum":2.3263,"type":"quantitative","scale":{"domain":[-2.3263,2.3263],"nice":false,"zero":false},"axis":null},"y2":{"datum":2.8274}}},
{"data":{"values":[{}]},"mark":{"type":"rect","fill":"#ECE9D8"},"encoding":{"x":{"datum":0.8338,"type":"quantitative","scale":{"domain":[0.8338,1.0286],"nice":false,"zero":false},"axis":null},"x2":{"datum":1.0286},"y":{"datum":-2.8512,"type":"quantitative","scale":{"domain":[-2.3263,2.3263],"nice":false,"zero":false},"axis":null},"y2":{"datum":-2.3263}}},
{"data":{"values":[{}]},"mark":{"type":"rect","filled":false,"stroke":"#222","strokeWidth":1},"encoding":{"x":{"datum":0.809854,"type":"quantitative","scale":{"domain":[0.8338,1.0286],"nice":false,"zero":false},"axis":null},"x2":{"datum":1.042191},"y":{"datum":-2.8512,"type":"quantitative","scale":{"domain":[-2.3263,2.3263],"nice":false,"zero":false},"axis":null},"y2":{"datum":2.8274}}},
{"data":{"values":[{}]},"mark":{"type":"rect","filled":false,"stroke":"#555","strokeWidth":1.5},"encoding":{"x":{"datum":0.8338,"type":"quantitative","scale":{"domain":[0.8338,1.0286],"nice":false,"zero":false},"axis":null},"x2":{"datum":1.0286},"y":{"datum":-2.3263,"type":"quantitative","scale":{"domain":[-2.3263,2.3263],"nice":false,"zero":false},"axis":null},"y2":{"datum":2.3263}}},
{"data":{"name":"f9"},"mark":{"type":"line","color":"#0000FF","strokeWidth":1},"encoding":{"x":{"field":"x","type":"quantitative","scale":{"domain":[0.8338,1.0286],"nice":false,"zero":false},"axis":{"orient":"bottom","grid":true,"labels":false,"ticks":false,"domain":false,"title":null,"zindex":0,"values":[0.8375,0.85,0.8625,0.875,0.8875,0.9,0.9125,0.925,0.9375,0.95,0.9625,0.975,0.9875,1,1.0125,1.025]}},"y":{"field":"z","type":"quantitative","scale":{"domain":[-2.3263,2.3263],"nice":false,"zero":false},"axis":{"orient":"left","grid":true,"labels":false,"ticks":false,"domain":false,"title":null,"zindex":0,"values":[-2.3263,-1.6449,-1.2816,-0.8416,-0.5244,-0.2533,0,0.2533,0.5244,0.8416,1.2816,1.6449,2.3263]}}}},
{"data":{"name":"p9"},"mark":{"type":"circle","size":30,"color":"#FF0000","opacity":1},"encoding":{"x":{"field":"x","type":"quantitative","scale":{"domain":[0.8338,1.0286],"nice":false,"zero":false},"axis":{"orient":"bottom","grid":false,"zindex":1,"values":[0.85,0.875,0.9,0.925,0.95,0.975,1,1.025],"format":".3f","title":null}},"y":{"field":"z","type":"quantitative","scale":{"domain":[-2.3263,2.3263],"nice":false,"zero":false},"axis":{"orient":"left","grid":false,"zindex":1,"values":[-2.3263,-1.6449,-1.2816,-0.8416,-0.5244,-0.2533,0,0.2533,0.5244,0.8416,1.2816,1.6449,2.3263],"labelExpr":"datum.value < -2 ? '1' : datum.value < -1.5 ? '5' : datum.value < -1 ? '10' : datum.value < -0.7 ? '20' : datum.value < -0.4 ? '30' : datum.value < -0.1 ? '40' : datum.value < 0.1 ? '50' : datum.value < 0.4 ? '60' : datum.value < 0.7 ? '70' : datum.value < 1 ? '80' : datum.value < 1.5 ? '90' : datum.value < 2 ? '95' : '99'","title":"Percent"}}}}
]},
{"width":305,"height":197,"title":{"text":"∑ᵢ wᵢμᵢ for second method","orient":"bottom","anchor":"middle","frame":"bounds","offset":12},"resolve":{"axis":{"x":"independent","y":"independent"}},"layer":[
{"data":{"values":[{}]},"mark":{"type":"rect","fill":"#ECE9D8"},"encoding":{"x":{"datum":0.763888,"type":"quantitative","scale":{"domain":[0.7946,1.0548],"nice":false,"zero":false},"axis":null},"x2":{"datum":0.7946},"y":{"datum":-2.7986,"type":"quantitative","scale":{"domain":[-2.3263,2.3263],"nice":false,"zero":false},"axis":null},"y2":{"datum":2.8223}}},
{"data":{"values":[{}]},"mark":{"type":"rect","fill":"#ECE9D8"},"encoding":{"x":{"datum":1.0548,"type":"quantitative","scale":{"domain":[0.7946,1.0548],"nice":false,"zero":false},"axis":null},"x2":{"datum":1.070156},"y":{"datum":-2.7986,"type":"quantitative","scale":{"domain":[-2.3263,2.3263],"nice":false,"zero":false},"axis":null},"y2":{"datum":2.8223}}},
{"data":{"values":[{}]},"mark":{"type":"rect","fill":"#ECE9D8"},"encoding":{"x":{"datum":0.7946,"type":"quantitative","scale":{"domain":[0.7946,1.0548],"nice":false,"zero":false},"axis":null},"x2":{"datum":1.0548},"y":{"datum":2.3263,"type":"quantitative","scale":{"domain":[-2.3263,2.3263],"nice":false,"zero":false},"axis":null},"y2":{"datum":2.8223}}},
{"data":{"values":[{}]},"mark":{"type":"rect","fill":"#ECE9D8"},"encoding":{"x":{"datum":0.7946,"type":"quantitative","scale":{"domain":[0.7946,1.0548],"nice":false,"zero":false},"axis":null},"x2":{"datum":1.0548},"y":{"datum":-2.7986,"type":"quantitative","scale":{"domain":[-2.3263,2.3263],"nice":false,"zero":false},"axis":null},"y2":{"datum":-2.3263}}},
{"data":{"values":[{}]},"mark":{"type":"rect","filled":false,"stroke":"#222","strokeWidth":1},"encoding":{"x":{"datum":0.763888,"type":"quantitative","scale":{"domain":[0.7946,1.0548],"nice":false,"zero":false},"axis":null},"x2":{"datum":1.070156},"y":{"datum":-2.7986,"type":"quantitative","scale":{"domain":[-2.3263,2.3263],"nice":false,"zero":false},"axis":null},"y2":{"datum":2.8223}}},
{"data":{"values":[{}]},"mark":{"type":"rect","filled":false,"stroke":"#555","strokeWidth":1.5},"encoding":{"x":{"datum":0.7946,"type":"quantitative","scale":{"domain":[0.7946,1.0548],"nice":false,"zero":false},"axis":null},"x2":{"datum":1.0548},"y":{"datum":-2.3263,"type":"quantitative","scale":{"domain":[-2.3263,2.3263],"nice":false,"zero":false},"axis":null},"y2":{"datum":2.3263}}},
{"data":{"name":"f10"},"mark":{"type":"line","color":"#0000FF","strokeWidth":1},"encoding":{"x":{"field":"x","type":"quantitative","scale":{"domain":[0.7946,1.0548],"nice":false,"zero":false},"axis":{"orient":"bottom","grid":true,"labels":false,"ticks":false,"domain":false,"title":null,"zindex":0,"values":[0.8,0.825,0.85,0.875,0.9,0.925,0.95,0.975,1,1.025,1.05]}},"y":{"field":"z","type":"quantitative","scale":{"domain":[-2.3263,2.3263],"nice":false,"zero":false},"axis":{"orient":"left","grid":true,"labels":false,"ticks":false,"domain":false,"title":null,"zindex":0,"values":[-2.3263,-1.6449,-1.2816,-0.8416,-0.5244,-0.2533,0,0.2533,0.5244,0.8416,1.2816,1.6449,2.3263]}}}},
{"data":{"name":"p10"},"mark":{"type":"circle","size":30,"color":"#FF0000","opacity":1},"encoding":{"x":{"field":"x","type":"quantitative","scale":{"domain":[0.7946,1.0548],"nice":false,"zero":false},"axis":{"orient":"bottom","grid":false,"zindex":1,"values":[0.8,0.85,0.9,0.95,1,1.05],"format":".2f","title":null}},"y":{"field":"z","type":"quantitative","scale":{"domain":[-2.3263,2.3263],"nice":false,"zero":false},"axis":{"orient":"left","grid":false,"zindex":1,"values":[-2.3263,-1.6449,-1.2816,-0.8416,-0.5244,-0.2533,0,0.2533,0.5244,0.8416,1.2816,1.6449,2.3263],"labelExpr":"datum.value < -2 ? '1' : datum.value < -1.5 ? '5' : datum.value < -1 ? '10' : datum.value < -0.7 ? '20' : datum.value < -0.4 ? '30' : datum.value < -0.1 ? '40' : datum.value < 0.1 ? '50' : datum.value < 0.4 ? '60' : datum.value < 0.7 ? '70' : datum.value < 1 ? '80' : datum.value < 1.5 ? '90' : datum.value < 2 ? '95' : '99'","title":"Percent"}}}}
]},
{"width":301,"height":195,"title":{"text":["∑ᵢ∑ⱼ wᵢⱼlᵢⱼμᵣ(i, j) for first","method"],"orient":"bottom","anchor":"middle","frame":"bounds","offset":12},"resolve":{"axis":{"x":"independent","y":"independent"}},"layer":[
{"data":{"values":[{}]},"mark":{"type":"rect","fill":"#ECE9D8"},"encoding":{"x":{"datum":0.318,"type":"quantitative","scale":{"domain":[0.341,0.5281],"nice":false,"zero":false},"axis":null},"x2":{"datum":0.341},"y":{"datum":-2.8512,"type":"quantitative","scale":{"domain":[-2.3263,2.3263],"nice":false,"zero":false},"axis":null},"y2":{"datum":2.8274}}},
{"data":{"values":[{}]},"mark":{"type":"rect","fill":"#ECE9D8"},"encoding":{"x":{"datum":0.5281,"type":"quantitative","scale":{"domain":[0.341,0.5281],"nice":false,"zero":false},"axis":null},"x2":{"datum":0.541154},"y":{"datum":-2.8512,"type":"quantitative","scale":{"domain":[-2.3263,2.3263],"nice":false,"zero":false},"axis":null},"y2":{"datum":2.8274}}},
{"data":{"values":[{}]},"mark":{"type":"rect","fill":"#ECE9D8"},"encoding":{"x":{"datum":0.341,"type":"quantitative","scale":{"domain":[0.341,0.5281],"nice":false,"zero":false},"axis":null},"x2":{"datum":0.5281},"y":{"datum":2.3263,"type":"quantitative","scale":{"domain":[-2.3263,2.3263],"nice":false,"zero":false},"axis":null},"y2":{"datum":2.8274}}},
{"data":{"values":[{}]},"mark":{"type":"rect","fill":"#ECE9D8"},"encoding":{"x":{"datum":0.341,"type":"quantitative","scale":{"domain":[0.341,0.5281],"nice":false,"zero":false},"axis":null},"x2":{"datum":0.5281},"y":{"datum":-2.8512,"type":"quantitative","scale":{"domain":[-2.3263,2.3263],"nice":false,"zero":false},"axis":null},"y2":{"datum":-2.3263}}},
{"data":{"values":[{}]},"mark":{"type":"rect","filled":false,"stroke":"#222","strokeWidth":1},"encoding":{"x":{"datum":0.318,"type":"quantitative","scale":{"domain":[0.341,0.5281],"nice":false,"zero":false},"axis":null},"x2":{"datum":0.541154},"y":{"datum":-2.8512,"type":"quantitative","scale":{"domain":[-2.3263,2.3263],"nice":false,"zero":false},"axis":null},"y2":{"datum":2.8274}}},
{"data":{"values":[{}]},"mark":{"type":"rect","filled":false,"stroke":"#555","strokeWidth":1.5},"encoding":{"x":{"datum":0.341,"type":"quantitative","scale":{"domain":[0.341,0.5281],"nice":false,"zero":false},"axis":null},"x2":{"datum":0.5281},"y":{"datum":-2.3263,"type":"quantitative","scale":{"domain":[-2.3263,2.3263],"nice":false,"zero":false},"axis":null},"y2":{"datum":2.3263}}},
{"data":{"name":"f11"},"mark":{"type":"line","color":"#0000FF","strokeWidth":1},"encoding":{"x":{"field":"x","type":"quantitative","scale":{"domain":[0.341,0.5281],"nice":false,"zero":false},"axis":{"orient":"bottom","grid":true,"labels":false,"ticks":false,"domain":false,"title":null,"zindex":0,"values":[0.35,0.3625,0.375,0.3875,0.4,0.4125,0.425,0.4375,0.45,0.4625,0.475,0.4875,0.5,0.5125,0.525]}},"y":{"field":"z","type":"quantitative","scale":{"domain":[-2.3263,2.3263],"nice":false,"zero":false},"axis":{"orient":"left","grid":true,"labels":false,"ticks":false,"domain":false,"title":null,"zindex":0,"values":[-2.3263,-1.6449,-1.2816,-0.8416,-0.5244,-0.2533,0,0.2533,0.5244,0.8416,1.2816,1.6449,2.3263]}}}},
{"data":{"name":"p11"},"mark":{"type":"circle","size":30,"color":"#FF0000","opacity":1},"encoding":{"x":{"field":"x","type":"quantitative","scale":{"domain":[0.341,0.5281],"nice":false,"zero":false},"axis":{"orient":"bottom","grid":false,"zindex":1,"values":[0.35,0.375,0.4,0.425,0.45,0.475,0.5,0.525],"format":".3f","title":null}},"y":{"field":"z","type":"quantitative","scale":{"domain":[-2.3263,2.3263],"nice":false,"zero":false},"axis":{"orient":"left","grid":false,"zindex":1,"values":[-2.3263,-1.6449,-1.2816,-0.8416,-0.5244,-0.2533,0,0.2533,0.5244,0.8416,1.2816,1.6449,2.3263],"labelExpr":"datum.value < -2 ? '1' : datum.value < -1.5 ? '5' : datum.value < -1 ? '10' : datum.value < -0.7 ? '20' : datum.value < -0.4 ? '30' : datum.value < -0.1 ? '40' : datum.value < 0.1 ? '50' : datum.value < 0.4 ? '60' : datum.value < 0.7 ? '70' : datum.value < 1 ? '80' : datum.value < 1.5 ? '90' : datum.value < 2 ? '95' : '99'","title":"Percent"}}}}
]},
{"width":305,"height":197,"title":{"text":["∑ᵢ∑ⱼ wᵢⱼlᵢⱼμᵣ(i, j) for second","method"],"orient":"bottom","anchor":"middle","frame":"bounds","offset":12},"resolve":{"axis":{"x":"independent","y":"independent"}},"layer":[
{"data":{"values":[{}]},"mark":{"type":"rect","fill":"#ECE9D8"},"encoding":{"x":{"datum":0.307059,"type":"quantitative","scale":{"domain":[0.3305,0.5291],"nice":false,"zero":false},"axis":null},"x2":{"datum":0.3305},"y":{"datum":-2.7986,"type":"quantitative","scale":{"domain":[-2.3263,2.3263],"nice":false,"zero":false},"axis":null},"y2":{"datum":2.8223}}},
{"data":{"values":[{}]},"mark":{"type":"rect","fill":"#ECE9D8"},"encoding":{"x":{"datum":0.5291,"type":"quantitative","scale":{"domain":[0.3305,0.5291],"nice":false,"zero":false},"axis":null},"x2":{"datum":0.540821},"y":{"datum":-2.7986,"type":"quantitative","scale":{"domain":[-2.3263,2.3263],"nice":false,"zero":false},"axis":null},"y2":{"datum":2.8223}}},
{"data":{"values":[{}]},"mark":{"type":"rect","fill":"#ECE9D8"},"encoding":{"x":{"datum":0.3305,"type":"quantitative","scale":{"domain":[0.3305,0.5291],"nice":false,"zero":false},"axis":null},"x2":{"datum":0.5291},"y":{"datum":2.3263,"type":"quantitative","scale":{"domain":[-2.3263,2.3263],"nice":false,"zero":false},"axis":null},"y2":{"datum":2.8223}}},
{"data":{"values":[{}]},"mark":{"type":"rect","fill":"#ECE9D8"},"encoding":{"x":{"datum":0.3305,"type":"quantitative","scale":{"domain":[0.3305,0.5291],"nice":false,"zero":false},"axis":null},"x2":{"datum":0.5291},"y":{"datum":-2.7986,"type":"quantitative","scale":{"domain":[-2.3263,2.3263],"nice":false,"zero":false},"axis":null},"y2":{"datum":-2.3263}}},
{"data":{"values":[{}]},"mark":{"type":"rect","filled":false,"stroke":"#222","strokeWidth":1},"encoding":{"x":{"datum":0.307059,"type":"quantitative","scale":{"domain":[0.3305,0.5291],"nice":false,"zero":false},"axis":null},"x2":{"datum":0.540821},"y":{"datum":-2.7986,"type":"quantitative","scale":{"domain":[-2.3263,2.3263],"nice":false,"zero":false},"axis":null},"y2":{"datum":2.8223}}},
{"data":{"values":[{}]},"mark":{"type":"rect","filled":false,"stroke":"#555","strokeWidth":1.5},"encoding":{"x":{"datum":0.3305,"type":"quantitative","scale":{"domain":[0.3305,0.5291],"nice":false,"zero":false},"axis":null},"x2":{"datum":0.5291},"y":{"datum":-2.3263,"type":"quantitative","scale":{"domain":[-2.3263,2.3263],"nice":false,"zero":false},"axis":null},"y2":{"datum":2.3263}}},
{"data":{"name":"f12"},"mark":{"type":"line","color":"#0000FF","strokeWidth":1},"encoding":{"x":{"field":"x","type":"quantitative","scale":{"domain":[0.3305,0.5291],"nice":false,"zero":false},"axis":{"orient":"bottom","grid":true,"labels":false,"ticks":false,"domain":false,"title":null,"zindex":0,"values":[0.3375,0.35,0.3625,0.375,0.3875,0.4,0.4125,0.425,0.4375,0.45,0.4625,0.475,0.4875,0.5,0.5125,0.525]}},"y":{"field":"z","type":"quantitative","scale":{"domain":[-2.3263,2.3263],"nice":false,"zero":false},"axis":{"orient":"left","grid":true,"labels":false,"ticks":false,"domain":false,"title":null,"zindex":0,"values":[-2.3263,-1.6449,-1.2816,-0.8416,-0.5244,-0.2533,0,0.2533,0.5244,0.8416,1.2816,1.6449,2.3263]}}}},
{"data":{"name":"p12"},"mark":{"type":"circle","size":30,"color":"#FF0000","opacity":1},"encoding":{"x":{"field":"x","type":"quantitative","scale":{"domain":[0.3305,0.5291],"nice":false,"zero":false},"axis":{"orient":"bottom","grid":false,"zindex":1,"values":[0.35,0.375,0.4,0.425,0.45,0.475,0.5,0.525],"format":".3f","title":null}},"y":{"field":"z","type":"quantitative","scale":{"domain":[-2.3263,2.3263],"nice":false,"zero":false},"axis":{"orient":"left","grid":false,"zindex":1,"values":[-2.3263,-1.6449,-1.2816,-0.8416,-0.5244,-0.2533,0,0.2533,0.5244,0.8416,1.2816,1.6449,2.3263],"labelExpr":"datum.value < -2 ? '1' : datum.value < -1.5 ? '5' : datum.value < -1 ? '10' : datum.value < -0.7 ? '20' : datum.value < -0.4 ? '30' : datum.value < -0.1 ? '40' : datum.value < 0.1 ? '50' : datum.value < 0.4 ? '60' : datum.value < 0.7 ? '70' : datum.value < 1 ? '80' : datum.value < 1.5 ? '90' : datum.value < 2 ? '95' : '99'","title":"Percent"}}}}
]}
]
}
